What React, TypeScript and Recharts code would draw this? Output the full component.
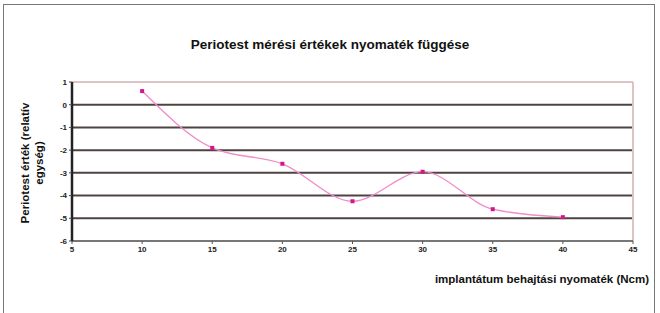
import { LineChart, Line, XAxis, YAxis, CartesianGrid, ReferenceLine } from "recharts";

const torque = [10, 15, 20, 25, 30, 35, 40];
const periotest = [0.6, -1.9, -2.6, -4.25, -2.95, -4.6, -4.95];
const xTicks = [5, 10, 15, 20, 25, 30, 35, 40, 45];
const yTicks = [-6, -5, -4, -3, -2, -1, 0, 1];

const data = torque.map((t, i) => ({ t, v: periotest[i] }));

const FONT = "'Liberation Sans', Arial, sans-serif";

const Marker = (props: any) => {
  const { cx, cy } = props;
  if (cx == null || cy == null) return null;
  return <rect x={cx - 2} y={cy - 2} width={4} height={4} fill="#d4168c" />;
};

export default function App() {
  return (
    <div style={{ position: "absolute", left: 0, top: 0, width: 660, height: 313, background: "#fff", fontFamily: FONT }}>
      <div style={{ position: "absolute", left: 3, top: 4, width: 650, height: 320, border: "1px solid #777" }} />
      <div style={{ position: "absolute", left: 0, width: 660, top: 37, textAlign: "center", fontSize: 13.5, fontWeight: 900, color: "#111" }}>
        Periotest mérési értékek nyomaték függése
      </div>
      <div
        style={{
          position: "absolute",
          left: 32,
          top: 163,
          transform: "translate(-50%, -50%) rotate(-90deg)",
          fontSize: 11.5,
          fontWeight: "bold",
          textAlign: "center",
          lineHeight: "14px",
          whiteSpace: "nowrap",
          color: "#111",
        }}
      >
        Periotest érték (relatív
        <br />
        egység)
      </div>
      <div style={{ position: "absolute", right: 11, top: 273, fontSize: 11.5, fontWeight: "bold", color: "#111" }}>
        implantátum behajtási nyomaték (Ncm)
      </div>
      <LineChart
        width={660}
        height={313}
        data={data}
        margin={{ top: 82, right: 27, bottom: 42, left: 0 }}
        style={{ position: "absolute", left: 0, top: 0 }}
      >
        <CartesianGrid vertical={false} stroke="#4e4242" strokeWidth={2} />
        <ReferenceLine y={1} stroke="#dcc4c4" strokeWidth={2} />
        <ReferenceLine x={45} stroke="#dcc4c4" strokeWidth={2} />
        <XAxis
          dataKey="t"
          type="number"
          domain={[5, 45]}
          ticks={xTicks}
          interval={0}
          axisLine={{ stroke: "#777", strokeWidth: 2 }}
          tickLine={{ stroke: "#555" }}
          tickSize={3}
          tick={{ fontSize: 8, fontWeight: "bold", fill: "#222", fontFamily: FONT }}
        />
        <YAxis
          type="number"
          domain={[-6, 1]}
          ticks={yTicks}
          interval={0}
          width={72}
          axisLine={{ stroke: "#222", strokeWidth: 2.5 }}
          tickLine={{ stroke: "#444" }}
          tickSize={3}
          tick={{ fontSize: 8, fontWeight: "bold", fill: "#222", fontFamily: FONT }}
        />
        <Line
          type="monotone"
          dataKey="v"
          stroke="#f08cc8"
          strokeWidth={1.3}
          dot={<Marker />}
          activeDot={false}
          isAnimationActive={false}
        />
      </LineChart>
    </div>
  );
}
